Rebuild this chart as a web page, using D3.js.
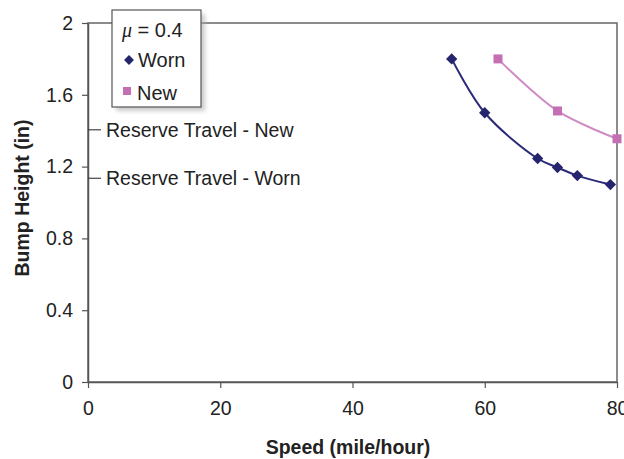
<!DOCTYPE html>
<html>
<head>
<meta charset="utf-8">
<script src="https://cdn.jsdelivr.net/npm/d3@7"></script>
<style>
  body { margin: 0; background: #fff; }
  text { font-family: "Liberation Sans", Arial, sans-serif; fill: #222; }
</style>
</head>
<body>
<svg id="chart" width="624" height="459"></svg>
<script>
// values
var wornSpeed = [55, 60, 68, 71, 74, 79];
var wornHeight = [1.8, 1.5, 1.245, 1.195, 1.15, 1.1];
var newSpeed = [62, 71, 80];
var newHeight = [1.8, 1.51, 1.355];
var xTicks = [0, 20, 40, 60, 80];
var yTicks = [0, 0.4, 0.8, 1.2, 1.6, 2];
var reserveLabels = ["Reserve Travel - New", "Reserve Travel - Worn"];
var reserveValues = [1.405, 1.135];

var svg = d3.select("#chart");
var plotLeft = 88, plotRight = 617, plotTop = 23, plotBottom = 382;

var x = d3.scaleLinear().domain([0, 80]).range([plotLeft, plotRight]);
var y = d3.scaleLinear().domain([0, 2]).range([plotBottom, plotTop]);

//plot frame
svg.append("rect").attr("x", plotLeft).attr("y", plotTop).attr("width", plotRight - plotLeft).attr("height", plotBottom - plotTop)
    .attr("fill", "none").attr("stroke", "#666").attr("stroke-width", 1.5);

var xAxis = svg.append("g").attr("transform", "translate(0," + plotBottom + ")")
    .call(d3.axisBottom(x).tickValues(xTicks).tickSize(6).tickSizeOuter(0).tickPadding(13));
var yAxis = svg.append("g").attr("transform", "translate(" + plotLeft + ",0)")
    .call(d3.axisLeft(y).tickValues(yTicks).tickSize(6).tickSizeOuter(0).tickPadding(9)
        .tickFormat(function(d) { return d === 0 || d === 2 ? d : d3.format(".1f")(d); }));
[xAxis, yAxis].forEach(function(g) {
    g.select(".domain").attr("stroke", "#555").attr("stroke-width", 1.5);
    g.selectAll(".tick line").attr("stroke", "#555").attr("stroke-width", 1.2);
    g.selectAll(".tick text").style("font-size", "19.5px").attr("fill", "#333")
        .style("font-family", "'Liberation Sans', Arial, sans-serif");
});

//reserve travel markers
reserveValues.forEach(function(v, i) {
    svg.append("line").attr("x1", plotLeft).attr("x2", plotLeft + 13).attr("y1", y(v)).attr("y2", y(v))
        .attr("stroke", "#444").attr("stroke-width", 1.2);
    svg.append("text").attr("x", plotLeft + 18).attr("y", y(v) + 7).style("font-size", "19.5px")
        .text(reserveLabels[i]);
});

var line = d3.line().curve(d3.curveCatmullRom.alpha(0.5))
    .x(function(d) { return x(d[0]); }).y(function(d) { return y(d[1]); });

var worn = d3.zip(wornSpeed, wornHeight);
var neu = d3.zip(newSpeed, newHeight);

svg.append("path").datum(neu).attr("d", line).attr("fill", "none")
    .attr("stroke", "#cf8cc4").attr("stroke-width", 2);
svg.append("path").datum(worn).attr("d", line).attr("fill", "none")
    .attr("stroke", "#2a2a78").attr("stroke-width", 2);

svg.selectAll(".newpt").data(neu).enter().append("rect")
    .attr("x", function(d) { return x(d[0]) - 4.5; }).attr("y", function(d) { return y(d[1]) - 4.5; })
    .attr("width", 9).attr("height", 9).attr("fill", "#c46fb4");
svg.selectAll(".wornpt").data(worn).enter().append("path")
    .attr("transform", function(d) { return "translate(" + x(d[0]) + "," + y(d[1]) + ") rotate(45)"; })
    .attr("d", "M-4,-4H4V4H-4Z").attr("fill", "#25256e");

//legend with shadow
svg.append("rect").attr("x", 116).attr("y", 14).attr("width", 89).attr("height", 97).attr("fill", "#aaa")
    .attr("opacity", 0.6).style("filter", "blur(2px)");
svg.append("rect").attr("x", 112).attr("y", 10).attr("width", 89).attr("height", 97)
    .attr("fill", "#fff").attr("stroke", "#555").attr("stroke-width", 1.2);
var mu = svg.append("text").attr("x", 122).attr("y", 37).style("font-size", "20px");
mu.append("tspan").style("font-style", "italic").style("font-family", "'Liberation Serif', serif").text("\u03bc");
mu.append("tspan").text(" = 0.4");
svg.append("path").attr("transform", "translate(129,60) rotate(45)").attr("d", "M-3.5,-3.5H3.5V3.5H-3.5Z").attr("fill", "#25256e");
svg.append("text").attr("x", 138).attr("y", 67).style("font-size", "20px").text("Worn");
svg.append("rect").attr("x", 123).attr("y", 87).attr("width", 8).attr("height", 8).attr("fill", "#c46fb4");
svg.append("text").attr("x", 137).attr("y", 100).style("font-size", "20px").text("New");

//axis titles
svg.append("text").attr("x", 348).attr("y", 454).attr("text-anchor", "middle")
    .style("font-size", "19.5px").style("font-weight", "bold").text("Speed (mile/hour)");
svg.append("text").attr("transform", "translate(29,198) rotate(-90)").attr("text-anchor", "middle")
    .style("font-size", "19.5px").style("font-weight", "bold").text("Bump Height (in)");
</script>
</body>
</html>
